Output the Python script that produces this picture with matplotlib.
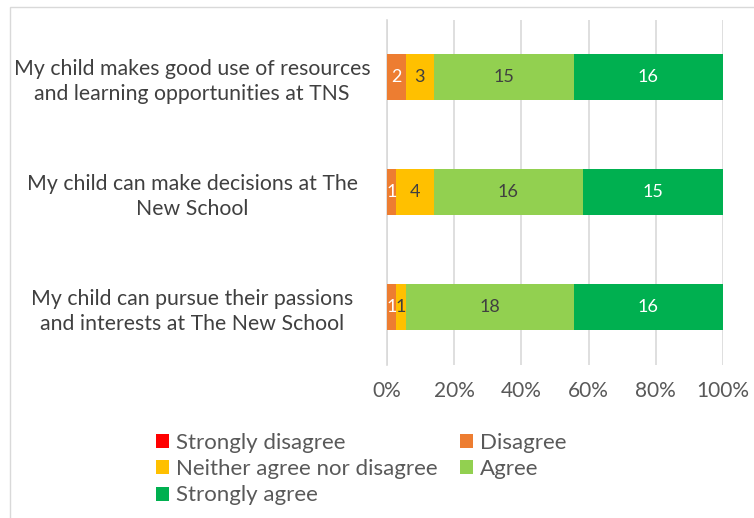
import matplotlib.pyplot as plt
import numpy as np
from matplotlib.patches import Rectangle

plt.rcParams['font.family'] = ['Lato', 'DejaVu Sans']

# survey statements, top to bottom
statements = [
    'My child makes good use of resources\nand learning opportunities at TNS',
    'My child can make decisions at The\nNew School',
    'My child can pursue their passions\nand interests at The New School',
]
responses = ['Strongly disagree', 'Disagree', 'Neither agree nor disagree',
             'Agree', 'Strongly agree']
colors = ['#FF0000', '#ED7D31', '#FFC000', '#92D050', '#00B050']
label_colors = ['white', 'white', '#404040', '#404040', 'white']

strongly_disagree = [0, 0, 0]
disagree = [2, 1, 1]
neither = [3, 4, 1]
agree = [15, 16, 18]
strongly_agree = [16, 15, 16]

counts = np.array([strongly_disagree, disagree, neither, agree, strongly_agree], dtype=float)
totals = counts.sum(axis=0)
shares = counts / totals

fig = plt.figure(figsize=(7.54, 5.18), dpi=100)
# chart frame
fig.patches.append(Rectangle((10 / 754, -0.1), 1.0, 1.1 - 7 / 518, transform=fig.transFigure,
                             fill=False, edgecolor='#D9D9D9', linewidth=1.0))
ax = fig.add_axes([387 / 754, 1 - 364.5 / 518, 336 / 754, 345 / 518])

y = np.arange(len(statements))
left = np.zeros(len(statements))
handles = []
for i, name in enumerate(responses):
    bars = ax.barh(y, shares[i], left=left, height=0.4, color=colors[i], label=name, zorder=3)
    handles.append(bars)
    for j, b in enumerate(bars):
        if counts[i, j] > 0:
            ax.text(b.get_x() + b.get_width() / 2, b.get_y() + b.get_height() / 2,
                    f'{int(counts[i, j])}', ha='center', va='center',
                    color=label_colors[i], fontsize=13, zorder=4)
    left += shares[i]

ax.set_xlim(0, 1)
ax.set_ylim(2.5, -0.5)
ax.set_xticks(np.linspace(0, 1, 6))
ax.set_xticklabels([f'{int(v)}%' for v in np.linspace(0, 100, 6)])
ax.set_yticks(y)
ax.set_yticklabels(statements, ha='center', multialignment='center', linespacing=1.3)
ax.tick_params(axis='y', length=0, pad=0, labelsize=15.3, labelcolor='#404040')
for lbl in ax.get_yticklabels():
    lbl.set_x(-0.580)
ax.tick_params(axis='x', length=0, pad=12, labelsize=15, labelcolor='#595959')
ax.grid(axis='x', color='#D9D9D9', linewidth=1.2, zorder=0)
for s in ['top', 'right', 'bottom']:
    ax.spines[s].set_visible(False)
ax.spines['left'].set_color('#D9D9D9')
ax.spines['left'].set_linewidth(1.2)

# legend filled row by row: two columns, three rows
order = [0, 2, 4, 1, 3]
fig.legend([handles[k] for k in order], [responses[k] for k in order],
           loc='upper left', bbox_to_anchor=(136 / 754, 1 - 413 / 518), ncol=2,
           frameon=False, fontsize=16, handlelength=0.6, handleheight=0.6,
           handletextpad=0.3, columnspacing=1.0, labelspacing=0.28,
           labelcolor='#595959')

fig.savefig('out.png', dpi=100)
